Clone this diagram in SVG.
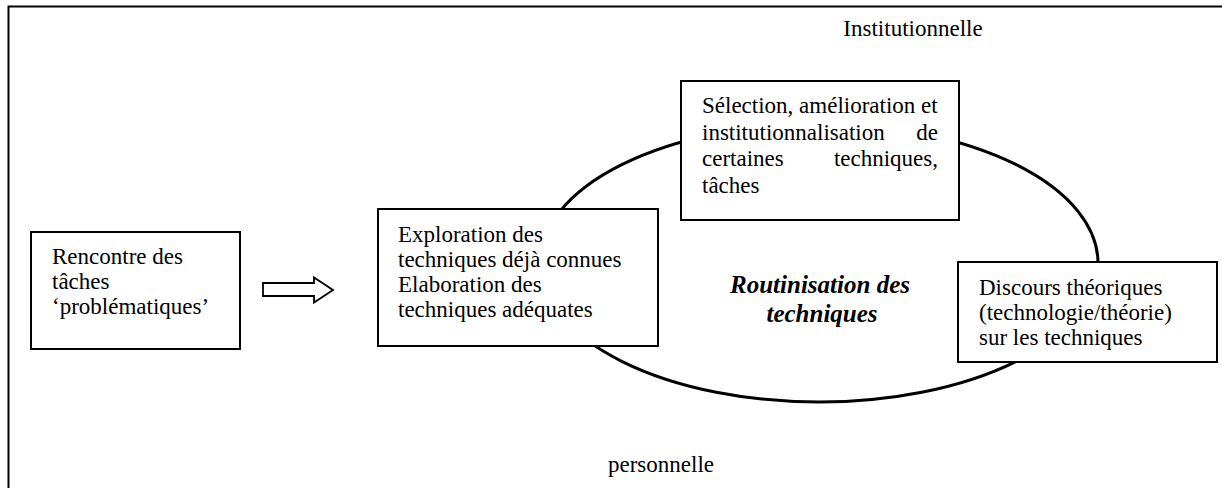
<svg xmlns="http://www.w3.org/2000/svg" width="1222" height="488" viewBox="0 0 1222 488">
<style>
  text { font-family: "Liberation Serif", "Times New Roman", serif; font-size: 23px; fill: #000; }
  .box { fill: #fff; stroke: #000; stroke-width: 2; }
  .em { font-weight: bold; font-style: italic; font-size: 25px; }
  .end { text-anchor: end; }
  .mid { text-anchor: middle; }
</style>
<rect x="0" y="0" width="1222" height="488" fill="#fff"/>
<g id="frame">
  <path d="M8.5 500 V6.5 H1240" fill="none" stroke="#000" stroke-width="2"/>
</g>
<g id="connectors">
  <ellipse id="cycle" cx="819" cy="263" rx="279" ry="139" fill="none" stroke="#000" stroke-width="3"/>
  <path id="arrow" d="M263 283 H314 V277.5 L333 290 L314 302.5 V296 H263 Z" fill="#fff" stroke="#000" stroke-width="1.8" stroke-linejoin="miter"/>
</g>
<g id="label-institutionnelle">
  <text x="913" y="36" class="mid">Institutionnelle</text>
</g>
<g id="label-personnelle">
  <text x="661" y="472" class="mid">personnelle</text>
</g>
<g id="node-rencontre">
  <rect class="box" x="31" y="232" width="209" height="117"/>
  <text x="52" y="264">Rencontre des</text>
  <text x="52" y="289">tâches</text>
  <text x="52" y="314">‘problématiques’</text>
</g>
<g id="node-exploration">
  <rect class="box" x="378" y="209" width="280" height="137"/>
  <text x="398" y="242">Exploration des</text>
  <text x="398" y="267">techniques déjà connues</text>
  <text x="398" y="292">Elaboration des</text>
  <text x="398" y="317">techniques adéquates</text>
</g>
<g id="node-selection">
  <rect class="box" x="681" y="81" width="278" height="139"/>
  <text x="702" y="113">Sélection, amélioration et</text>
  <text x="702" y="140">institutionnalisation</text>
  <text x="938" y="140" class="end">de</text>
  <text x="702" y="166">certaines</text>
  <text x="938" y="166" class="end">techniques,</text>
  <text x="702" y="193">tâches</text>
</g>
<g id="node-discours">
  <rect class="box" x="958" y="262" width="259" height="100"/>
  <text x="979" y="295">Discours théoriques</text>
  <text x="979" y="320">(technologie/théorie)</text>
  <text x="979" y="345">sur les techniques</text>
</g>
<g id="label-routinisation">
  <text x="820" y="293" class="em mid">Routinisation des</text>
  <text x="822" y="322" class="em mid">techniques</text>
</g>
</svg>
